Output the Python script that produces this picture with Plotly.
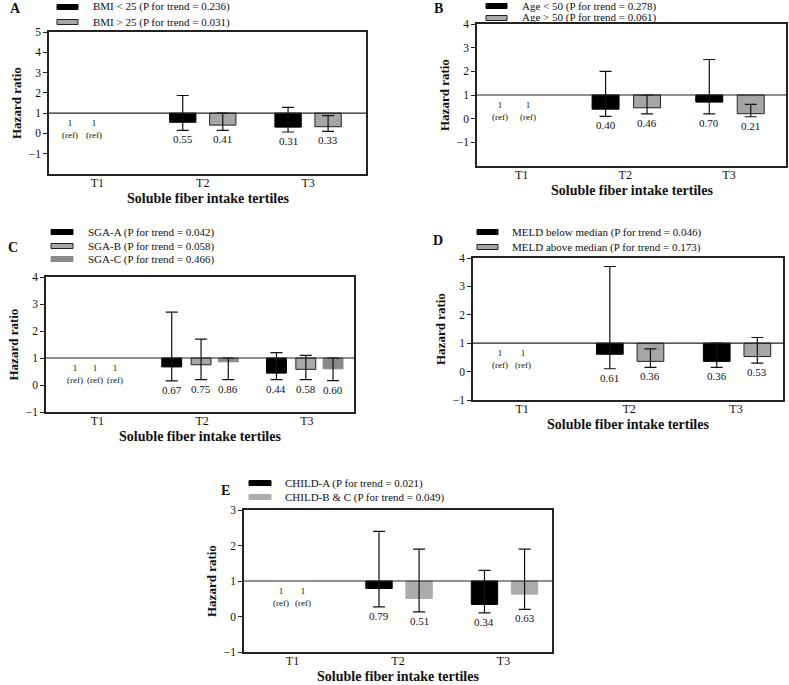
import plotly.graph_objects as go

W, H = 789, 685
tertiles = ["T1", "T2", "T3"]

# ---- Panel A: BMI ----
A_groups = ["BMI < 25 (P for trend = 0.236)", "BMI > 25 (P for trend = 0.031)"]
A_hr = [[1, 0.55, 0.31], [1, 0.41, 0.33]]
A_lo = [[None, 0.15, 0.07], [None, 0.15, 0.10]]
A_hi = [[None, 1.87, 1.28], [None, 1.00, 0.88]]

# ---- Panel B: Age ----
B_groups = ["Age < 50 (P for trend = 0.278)", "Age > 50 (P for trend = 0.061)"]
B_hr = [[1, 0.40, 0.70], [1, 0.46, 0.21]]
B_lo = [[None, 0.10, 0.20], [None, 0.20, 0.08]]
B_hi = [[None, 2.00, 2.50], [None, 1.00, 0.60]]

# ---- Panel C: SGA ----
C_groups = ["SGA-A (P for trend = 0.042)", "SGA-B (P for trend = 0.058)", "SGA-C (P for trend = 0.466)"]
C_hr = [[1, 0.67, 0.44], [1, 0.75, 0.58], [1, 0.86, 0.60]]
C_lo = [[None, 0.15, 0.20], [None, 0.20, 0.20], [None, 0.20, 0.16]]
C_hi = [[None, 2.70, 1.20], [None, 1.70, 1.10], [None, 1.00, 1.00]]

# ---- Panel D: MELD ----
D_groups = ["MELD below median (P for trend = 0.046)", "MELD above median (P for trend = 0.173)"]
D_hr = [[1, 0.61, 0.36], [1, 0.36, 0.53]]
D_lo = [[None, 0.10, 0.15], [None, 0.15, 0.30]]
D_hi = [[None, 3.70, 1.00], [None, 0.80, 1.20]]

# ---- Panel E: CHILD ----
E_groups = ["CHILD-A (P for trend = 0.021)", "CHILD-B & C (P for trend = 0.049)"]
E_hr = [[1, 0.79, 0.34], [1, 0.51, 0.63]]
E_lo = [[None, 0.27, 0.10], [None, 0.13, 0.20]]
E_hi = [[None, 2.40, 1.30], [None, 1.90, 1.90]]

SERIF = "Liberation Serif, Times New Roman, serif"


def esc(s):
    return s.replace("&", "&amp;").replace("<", "&lt;").replace(">", "&gt;")


def px(xp):
    return xp / W


def py(yp):
    return 1 - yp / H


panels = [
    dict(letter="A", groups=A_groups, hr=A_hr, lo=A_lo, hi=A_hi,
         box=(49, 366, 32, 174), yr=(-2, 5), xr=(-0.46, 2.55),
         offsets=[-0.19, 0.19], bw=0.25,
         fills=["#000000", "#a6a6a6"], lines=["#000000", "#222222"],
         refshift=[-27, -3], letterpos=(15, 8),
         leg_sw=(57, 78), leg_y=[7, 22], leg_tx=91),
    dict(letter="B", groups=B_groups, hr=B_hr, lo=B_lo, hi=B_hi,
         box=(477, 786, 24, 166), yr=(-2, 4), xr=(-0.43, 2.55),
         offsets=[-0.19, 0.21], bw=0.26,
         fills=["#000000", "#a6a6a6"], lines=["#000000", "#222222"],
         refshift=[-22, 6], letterpos=(438, 8),
         leg_sw=(486, 507), leg_y=[6, 18], leg_tx=520),
    dict(letter="C", groups=C_groups, hr=C_hr, lo=C_lo, hi=C_hi,
         box=(46, 354, 277, 412), yr=(-1, 4), xr=(-0.49, 2.45),
         offsets=[-0.29, -0.01, 0.25], bw=0.19,
         fills=["#000000", "#a8a8a8", "#8a8a8a"], lines=["#000000", "#222222", "#8a8a8a"],
         refshift=[-22, -2, 18], letterpos=(13, 247),
         leg_sw=(51, 73), leg_y=[232, 246, 259], leg_tx=86),
    dict(letter="D", groups=D_groups, hr=D_hr, lo=D_lo, hi=D_hi,
         box=(473, 783, 258, 400), yr=(-1, 4), xr=(-0.46, 2.44),
         offsets=[-0.18, 0.2], bw=0.25,
         fills=["#000000", "#a6a6a6"], lines=["#000000", "#222222"],
         refshift=[-22, 1], letterpos=(438, 240),
         leg_sw=(477, 498), leg_y=[232, 247], leg_tx=510),
    dict(letter="E", groups=E_groups, hr=E_hr, lo=E_lo, hi=E_hi,
         box=(244, 552, 510, 652), yr=(-1, 3), xr=(-0.46, 2.46),
         offsets=[-0.18, 0.2], bw=0.25,
         fills=["#000000", "#ababab"], lines=["#000000", "#ababab"],
         refshift=[-12, 10], letterpos=(225, 490),
         leg_sw=(249, 271), leg_y=[483, 497], leg_tx=283),
]

fig = go.Figure()
annotations = []
shapes = []
layout_axes = {}

for k, p in enumerate(panels):
    n = k + 1
    xa = "x" if n == 1 else f"x{n}"
    ya = "y" if n == 1 else f"y{n}"
    xkey = "xaxis" if n == 1 else f"xaxis{n}"
    ykey = "yaxis" if n == 1 else f"yaxis{n}"
    x0, x1, y0, y1 = p["box"]

    for g in range(len(p["groups"])):
        idx = [i for i in range(len(tertiles)) if p["lo"][g][i] is not None]
        xs = [i + p["offsets"][g] for i in idx]
        vals = [p["hr"][g][i] for i in idx]
        los = [p["lo"][g][i] for i in idx]
        his = [p["hi"][g][i] for i in idx]
        fig.add_trace(go.Bar(
            x=xs, y=[v - 1 for v in vals], base=[1] * len(vals), width=p["bw"],
            marker=dict(color=p["fills"][g], line=dict(color=p["lines"][g], width=1)),
            xaxis=xa, yaxis=ya, showlegend=False, name=p["groups"][g]))
        fig.add_trace(go.Scatter(
            x=xs, y=vals, mode="markers",
            marker=dict(size=1, color="rgba(0,0,0,0)"),
            error_y=dict(type="data", symmetric=False,
                         array=[h - v for h, v in zip(his, vals)],
                         arrayminus=[v - l for v, l in zip(vals, los)],
                         color="#111111", thickness=1.2, width=6),
            xaxis=xa, yaxis=ya, showlegend=False, hoverinfo="skip"))
        for xv, v, l in zip(xs, vals, los):
            annotations.append(dict(
                x=xv, y=l, xref=xa, yref=ya, text=f"{v:.2f}", showarrow=False,
                yanchor="top", yshift=-1, font=dict(family=SERIF, size=11, color="#111")))
        # reference labels at T1
        annotations.append(dict(
            x=0, y=p["hr"][g][0], xref=xa, yref=ya, text=f"{p['hr'][g][0]}<br>(ref)",
            showarrow=False, xshift=p["refshift"][g], yanchor="top", yshift=-3,
            font=dict(family=SERIF, size=9, color="#111")))
        # legend swatch + text
        sy = p["leg_y"][g]
        shapes.append(dict(
            type="rect", xref="paper", yref="paper",
            x0=px(p["leg_sw"][0]), x1=px(p["leg_sw"][1]), y0=py(sy + 2.5), y1=py(sy - 2.5),
            fillcolor=p["fills"][g], line=dict(color=p["lines"][g], width=1)))
        annotations.append(dict(
            x=px(p["leg_tx"]), y=py(sy), xref="paper", yref="paper", text=esc(p["groups"][g]),
            showarrow=False, xanchor="left", yanchor="middle",
            font=dict(family=SERIF, size=11, color="#111")))

    # line at HR = 1
    shapes.append(dict(type="line", xref=f"{xa} domain", yref=ya, x0=0, x1=1, y0=1, y1=1,
                       line=dict(color="#222", width=1.2)))

    layout_axes[xkey] = dict(
        domain=[px(x0), px(x1)], range=list(p["xr"]), anchor=ya, automargin=False,
        tickvals=list(range(len(tertiles))), ticktext=tertiles, ticks="", ticklabelstandoff=-3,
        showline=True, mirror=True, linecolor="#222", linewidth=1.5,
        showgrid=False, zeroline=False, tickfont=dict(family=SERIF, size=12, color="#111"))
    layout_axes[ykey] = dict(
        domain=[py(y1), py(y0)], range=list(p["yr"]), anchor=xa, automargin=False,
        tickvals=list(range(-1, p["yr"][1] + 1)), ticks="outside", ticklen=4,
        tickcolor="#222", showline=True, mirror=True, linecolor="#222", linewidth=1.5,
        showgrid=False, zeroline=False, tickfont=dict(family=SERIF, size=11.5, color="#111"))

    annotations.append(dict(
        x=0.5, y=0, xref=f"{xa} domain", yref=f"{ya} domain", text="<b>Soluble fiber intake tertiles</b>",
        showarrow=False, yanchor="middle", yshift=-24,
        font=dict(family=SERIF, size=14, color="#111")))
    annotations.append(dict(
        x=0, y=0.5, xref=f"{xa} domain", yref=f"{ya} domain", text="<b>Hazard ratio</b>",
        showarrow=False, textangle=-90, xanchor="center", xshift=-33,
        font=dict(family=SERIF, size=13, color="#111")))
    annotations.append(dict(
        x=px(p["letterpos"][0]), y=py(p["letterpos"][1]), xref="paper", yref="paper",
        text=f"<b>{p['letter']}</b>", showarrow=False, xanchor="center", yanchor="middle",
        font=dict(family=SERIF, size=14, color="#111")))

fig.update_layout(
    template="none",
    width=W, height=H, autosize=False,
    margin=dict(l=0, r=0, t=0, b=0, pad=0),
    paper_bgcolor="white", plot_bgcolor="white",
    barmode="overlay", showlegend=False,
    annotations=annotations, shapes=shapes,
    **layout_axes)

fig.write_html(
    "out.html",
    config={"displayModeBar": False},
    post_script="document.body.style.margin='0';document.body.style.padding='0';")
